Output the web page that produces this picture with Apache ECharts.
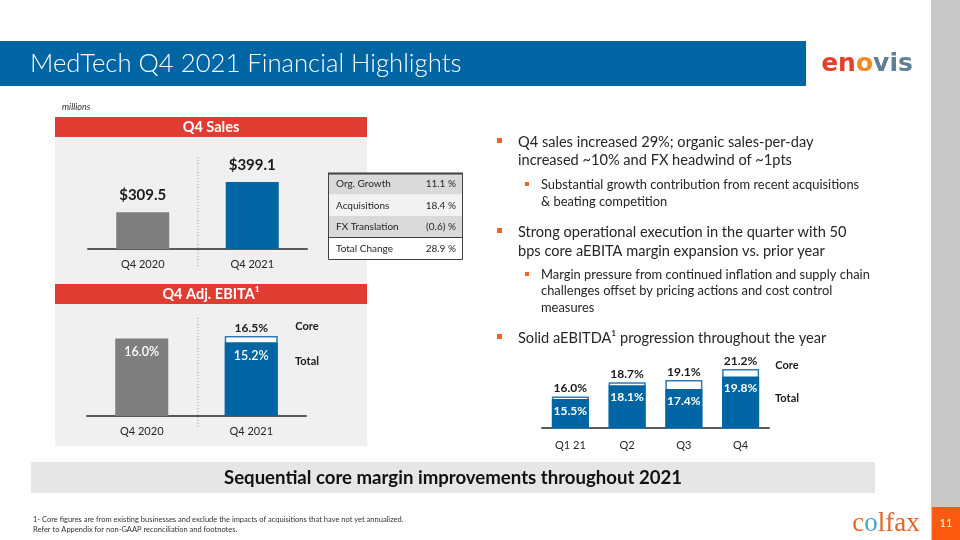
<!DOCTYPE html>
<html>
<head>
<meta charset="utf-8">
<script src="https://cdn.jsdelivr.net/npm/echarts@6/dist/echarts.min.js"></script>
<style>
html,body{margin:0;padding:0;background:#fff;}
#chart{width:960px;height:540px;}
</style>
</head>
<body>
<div id="chart"></div>
<script>
// ---- Data ----
const salesCategories = ['Q4 2020', 'Q4 2021'];
const salesValues = [309.5, 399.1];
const ebitaCategories = ['Q4 2020', 'Q4 2021'];
const ebitaTotal = [16.0, 15.2];
const ebitaCore = [null, 16.5];
const quarterCategories = ['Q1 21', 'Q2', 'Q3', 'Q4'];
const quarterCore = [16.0, 18.7, 19.1, 21.2];
const quarterTotal = [15.5, 18.1, 17.4, 19.8];
const tableLabels = ['Org. Growth', 'Acquisitions', 'FX Translation', 'Total Change'];
const tableValues = ['11.1 %', '18.4 %', '(0.6) %', '28.9 %'];
const bulletLines = [
  ['Q4 sales increased 29%; organic sales-per-day', 'increased ~10% and FX headwind of ~1pts'],
  ['Strong operational execution in the quarter with 50', 'bps core aEBITA margin expansion vs. prior year'],
  ['Solid aEBITDA\u00B9 progression throughout the year']
];
const subBulletLines = [
  ['Substantial growth contribution from recent acquisitions', '& beating competition'],
  ['Margin pressure from continued inflation and supply chain', 'challenges offset by pricing actions and cost control', 'measures']
];

const FONT = 'Lato, "Open Sans", sans-serif';
const BLUE = '#0065a3';
const GRAY = '#7f7f7f';
const RED = '#e03c31';
const ORANGE = '#f26522';

const chart = echarts.init(document.getElementById('chart'), null, {renderer: 'canvas'});

function txt(text, x, y, size, opts) {
  opts = opts || {};
  return {
    type: 'text', z: opts.z || 5,
    style: {
      text: text, x: x, y: y,
      font: (opts.style || '') + ' ' + (opts.weight || 'normal') + ' ' + size + 'px ' + (opts.family || FONT),
      fill: opts.color || '#262626',
      textAlign: opts.align || 'left',
      textVerticalAlign: 'middle'
    }
  };
}

const graphics = [];
// right gray strip & page box
graphics.push({type: 'rect', z: 0, shape: {x: 931, y: 0, width: 29, height: 540}, style: {fill: '#c8c8c8'}});
graphics.push({type: 'rect', z: 1, shape: {x: 932, y: 507, width: 28, height: 33}, style: {fill: '#fb5a0e'}});
graphics.push(txt('11', 946, 523, 11, {color: '#fff', align: 'center'}));
// title bar
graphics.push({type: 'rect', z: 0, shape: {x: 0, y: 41, width: 806, height: 45}, style: {fill: BLUE}});
graphics.push(txt('MedTech Q4 2021 Financial Highlights', 30, 64, 25.7, {color: '#fff', weight: '300'}));
// enovis logo
graphics.push({
  type: 'text', z: 5,
  style: {
    text: '{a|en}{b|o}{c|vis}', x: 867, y: 64, textAlign: 'center', textVerticalAlign: 'middle',
    rich: {
      a: {fill: '#e4412d', font: 'bold 25px "DejaVu Sans", sans-serif'},
      b: {fill: '#f08a24', font: 'bold 25px "DejaVu Sans", sans-serif'},
      c: {fill: '#5f7f95', font: 'bold 25px "DejaVu Sans", sans-serif'}
    }
  }
});
// millions
graphics.push(txt('millions', 62, 107, 9, {style: 'italic', color: '#333'}));
// Sales panel
graphics.push({type: 'rect', z: 0, shape: {x: 55, y: 117, width: 312, height: 20}, style: {fill: RED}});
graphics.push(txt('Q4 Sales', 211, 127.5, 14.5, {color: '#fff', weight: 'bold', align: 'center'}));
graphics.push({type: 'rect', z: 0, shape: {x: 55, y: 137, width: 312, height: 147}, style: {fill: '#f0f0f0'}});
graphics.push({type: 'line', z: 1, shape: {x1: 198, y1: 157, x2: 198, y2: 266}, style: {stroke: '#9a9a9a', lineWidth: 1, lineDash: [1, 2]}});
// EBITA panel
graphics.push({type: 'rect', z: 0, shape: {x: 55, y: 284, width: 312, height: 20}, style: {fill: RED}});
graphics.push(txt('Q4 Adj. EBITA\u00B9', 211, 294.5, 14.5, {color: '#fff', weight: 'bold', align: 'center'}));
graphics.push({type: 'rect', z: 0, shape: {x: 55, y: 304, width: 312, height: 142}, style: {fill: '#f0f0f0'}});
graphics.push({type: 'line', z: 1, shape: {x1: 198, y1: 318, x2: 198, y2: 429}, style: {stroke: '#9a9a9a', lineWidth: 1, lineDash: [1, 2]}});
graphics.push(txt('Core', 307, 326, 11, {weight: 'bold', align: 'center', color: '#1a1a1a'}));
graphics.push(txt('Total', 307, 361, 11, {weight: 'bold', align: 'center', color: '#1a1a1a'}));
// Table
const rowFills = ['#d9d9d9', '#f2f2f2', '#d9d9d9', '#ffffff'];
for (let i = 0; i < tableLabels.length; i++) {
  const y0 = 173 + i * 21.5;
  graphics.push({type: 'rect', z: 1, shape: {x: 328, y: y0, width: 134, height: 21.5}, style: {fill: rowFills[i]}});
  graphics.push(txt(tableLabels[i], 336, y0 + 11, 10, {color: '#262626'}));
  graphics.push(txt(tableValues[i], 456, y0 + 11, 10, {color: '#262626', align: 'right'}));
}
graphics.push({type: 'rect', z: 2, shape: {x: 328.5, y: 173.5, width: 134, height: 86}, style: {fill: 'none', stroke: '#404040', lineWidth: 1}});
graphics.push({type: 'line', z: 2, shape: {x1: 328, y1: 173.5, x2: 463, y2: 173.5}, style: {stroke: '#404040', lineWidth: 2}});
graphics.push({type: 'line', z: 2, shape: {x1: 328, y1: 237.5, x2: 463, y2: 237.5}, style: {stroke: '#404040', lineWidth: 1}});
// Bullets
const mainY = [[142, 160], [232, 251], [338]];
const subY = [[185, 202], [275, 291, 308]];
for (let b = 0; b < bulletLines.length; b++) {
  graphics.push({type: 'rect', z: 2, shape: {x: 497, y: mainY[b][0] - 4, width: 5, height: 5}, style: {fill: ORANGE}});
  bulletLines[b].forEach((line, j) => graphics.push(txt(line, 518, mainY[b][j], 14.6, {color: '#262626'})));
}
for (let b = 0; b < subBulletLines.length; b++) {
  graphics.push({type: 'rect', z: 2, shape: {x: 525, y: subY[b][0] - 3, width: 4, height: 4}, style: {fill: ORANGE}});
  subBulletLines[b].forEach((line, j) => graphics.push(txt(line, 541, subY[b][j], 12.9, {color: '#262626'})));
}
graphics.push(txt('Core', 787, 365, 11, {weight: 'bold', align: 'center', color: '#1a1a1a'}));
graphics.push(txt('Total', 787, 398, 11, {weight: 'bold', align: 'center', color: '#1a1a1a'}));
// Bottom banner
graphics.push({type: 'rect', z: 0, shape: {x: 31, y: 462, width: 844, height: 31}, style: {fill: '#e6e6e6'}});
graphics.push(txt('Sequential core margin improvements throughout 2021', 453, 478, 18.6, {weight: 'bold', align: 'center', color: '#111'}));
// Footnotes
graphics.push(txt('1- Core figures are from existing businesses and exclude the impacts of acquisitions that have not yet annualized.', 33, 520, 7.5, {color: '#333'}));
graphics.push(txt('Refer to Appendix for non-GAAP reconciliation and footnotes.', 33, 530, 7.5, {color: '#333'}));
// colfax logo
graphics.push({
  type: 'text', z: 5,
  style: {
    text: '{a|c}{b|o}{a|lfax}', x: 886, y: 524, textAlign: 'center', textVerticalAlign: 'middle',
    rich: {
      a: {fill: '#e8632b', font: '27px "Liberation Serif", serif'},
      b: {fill: '#3ea6c4', font: '27px "Liberation Serif", serif'}
    }
  }
});

const axisCommon = {
  type: 'category',
  axisLine: {show: true, lineStyle: {color: '#595959', width: 2}},
  axisTick: {show: false},
  axisLabel: {color: '#262626', fontSize: 11, fontFamily: FONT, margin: 10}
};

const option = {
  animation: false,
  backgroundColor: '#ffffff',
  graphic: graphics,
  grid: [
    {left: 88, top: 148, width: 219, height: 101},
    {left: 87, top: 319, width: 219, height: 97},
    {left: 542, top: 349, width: 227, height: 79}
  ],
  xAxis: [
    Object.assign({}, axisCommon, {gridIndex: 0, data: salesCategories}),
    Object.assign({}, axisCommon, {gridIndex: 1, data: ebitaCategories}),
    Object.assign({}, axisCommon, {gridIndex: 2, data: quarterCategories, axisLabel: Object.assign({}, axisCommon.axisLabel, {margin: 12})})
  ],
  yAxis: [
    {type: 'value', gridIndex: 0, min: 200, max: 500, show: false},
    {type: 'value', gridIndex: 1, min: 0, max: 20, show: false},
    {type: 'value', gridIndex: 2, min: 10, max: 25, show: false}
  ],
  series: [
    {
      name: 'Sales', type: 'bar', xAxisIndex: 0, yAxisIndex: 0, barWidth: 53,
      data: salesValues.map((v, i) => ({value: v, itemStyle: {color: i === 0 ? GRAY : BLUE}})),
      label: {show: true, position: 'top', distance: 9, formatter: p => '$' + p.value.toFixed(1),
        fontSize: 15, fontWeight: 'bold', color: '#1a1a1a', fontFamily: FONT}
    },
    {
      name: 'EBITA Core', type: 'bar', xAxisIndex: 1, yAxisIndex: 1, barWidth: 53, barGap: '-100%',
      data: ebitaCore,
      itemStyle: {color: '#ffffff', borderColor: '#2e78b8', borderWidth: 1.5},
      label: {show: true, position: 'top', distance: 2, formatter: p => p.value.toFixed(1) + '%',
        fontSize: 12, fontWeight: 'bold', color: '#1a1a1a', fontFamily: FONT}
    },
    {
      name: 'EBITA Total', type: 'bar', xAxisIndex: 1, yAxisIndex: 1, barWidth: 53, barGap: '-100%',
      data: ebitaTotal.map((v, i) => ({value: v, itemStyle: {color: i === 0 ? GRAY : BLUE}})),
      label: {show: true, position: 'insideTop', distance: 7, formatter: p => p.value.toFixed(1) + '%',
        fontSize: 12.5, fontWeight: '600', color: '#ffffff', fontFamily: FONT}
    },
    {
      name: 'Quarter Core', type: 'bar', xAxisIndex: 2, yAxisIndex: 2, barWidth: 37, barGap: '-100%',
      data: quarterCore,
      itemStyle: {color: '#ffffff', borderColor: '#2e78b8', borderWidth: 1.5},
      label: {show: true, position: 'top', distance: 2, formatter: p => p.value.toFixed(1) + '%',
        fontSize: 12, fontWeight: 'bold', color: '#1a1a1a', fontFamily: FONT}
    },
    {
      name: 'Quarter Total', type: 'bar', xAxisIndex: 2, yAxisIndex: 2, barWidth: 37, barGap: '-100%',
      data: quarterTotal,
      itemStyle: {color: BLUE},
      label: {show: true, position: 'insideTop', distance: 6, formatter: p => p.value.toFixed(1) + '%',
        fontSize: 12, fontWeight: 'bold', color: '#ffffff', fontFamily: FONT}
    }
  ]
};
chart.setOption(option);
</script>
</body>
</html>
